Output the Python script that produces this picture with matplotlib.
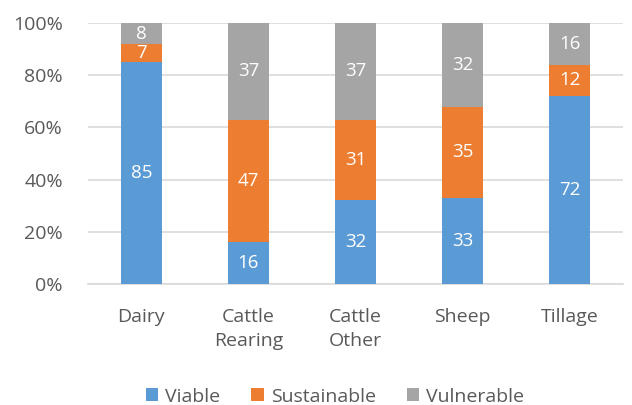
import matplotlib.pyplot as plt
import numpy as np

categories = ["Dairy", "Cattle\nRearing", "Cattle\nOther", "Sheep", "Tillage"]
viable = [85, 16, 32, 33, 72]
sustainable = [7, 47, 31, 35, 12]
vulnerable = [8, 37, 37, 32, 16]

series = [("Viable", viable, "#5B9BD5"),
          ("Sustainable", sustainable, "#ED7D31"),
          ("Vulnerable", vulnerable, "#A5A5A5")]

plt.rcParams['font.family'] = ['Open Sans', 'DejaVu Sans']
text_color = "#595959"

fig = plt.figure(figsize=(6.32, 4.05), dpi=100)
ax = fig.add_axes([0.139, 0.299, 0.847, 0.644])

x = np.arange(len(categories))
bottom = np.zeros(len(categories))
for name, vals, color in series:
    vals = np.array(vals, dtype=float)
    ax.bar(x, vals, 0.39, bottom=bottom, color=color, label=name, zorder=3)
    for xi, b, v in zip(x, bottom, vals):
        ax.text(xi, b + v / 2, str(int(v)), ha="center", va="center",
                color="white", fontsize=13.5, zorder=4)
    bottom += vals

ax.set_xlim(-0.5, len(categories) - 0.5)
ax.set_ylim(0, 100)
ax.set_yticks(range(0, 101, 20))
ax.set_yticklabels([f"{v}%" for v in range(0, 101, 20)])
ax.set_xticks(x)
ax.set_xticklabels(categories, linespacing=1.45)
ax.tick_params(axis="both", length=0, labelsize=14, colors=text_color)
ax.tick_params(axis="y", pad=18)
ax.tick_params(axis="x", pad=17)
ax.grid(axis="y", color="#D9D9D9", linewidth=1.2, zorder=0)
for side in ["top", "right", "left"]:
    ax.spines[side].set_visible(False)
ax.spines["bottom"].set_color("#D9D9D9")
ax.spines["bottom"].set_linewidth(1.2)

leg = fig.legend(loc="lower center", bbox_to_anchor=(0.53, -0.045), ncol=3,
                 frameon=False, fontsize=14, handlelength=0.65, handleheight=0.65,
                 columnspacing=1.6, handletextpad=0.35)
for t in leg.get_texts():
    t.set_color(text_color)

fig.savefig("out.png", dpi=100)
